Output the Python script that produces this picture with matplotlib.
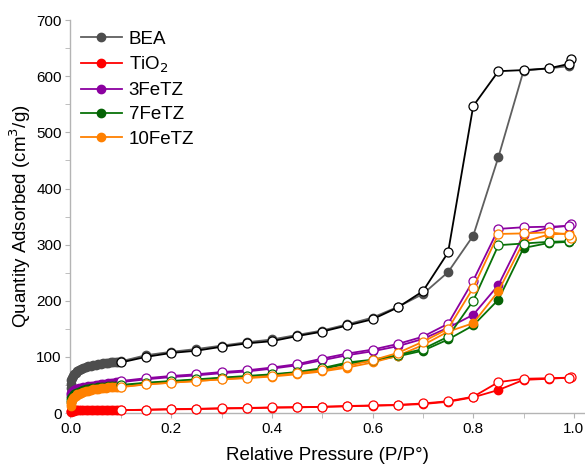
import matplotlib
matplotlib.use("Agg")
import matplotlib.pyplot as plt
from matplotlib.ticker import MultipleLocator

plt.rcParams['font.family'] = ['Liberation Sans', 'DejaVu Sans']

# relative pressure points
p_low = [0.0005, 0.001, 0.002, 0.003, 0.005, 0.007, 0.01, 0.013, 0.016, 0.02,
         0.025, 0.03, 0.035, 0.04, 0.045, 0.05, 0.055, 0.06, 0.065, 0.07,
         0.075, 0.08, 0.085, 0.09, 0.095]
p_mid = [0.1, 0.15, 0.2, 0.25, 0.3, 0.35, 0.4, 0.45, 0.5, 0.55, 0.6, 0.65,
         0.7, 0.75, 0.8, 0.85, 0.9, 0.95, 0.99]
p_ads = p_low + p_mid
p_des = [0.995, 0.99, 0.95, 0.9, 0.85, 0.8, 0.75, 0.7, 0.65, 0.6, 0.55, 0.5,
         0.45, 0.4, 0.35, 0.3, 0.25, 0.2, 0.15, 0.1]

# BEA
bea_ads = [45, 52, 58, 62, 66, 69, 72, 74, 76, 78, 80, 81.5, 83, 84, 85, 86, 87,
           88, 88.5, 89, 89.5, 90, 90.5, 91, 91.5,
           92, 103, 109, 114, 120, 126, 131, 139, 147, 158, 170, 189, 212, 251,
           316, 456, 610, 614, 618]
bea_des = [631, 622, 614, 611, 609, 547, 286, 217, 188, 167, 156, 145, 137,
           128, 124, 118, 111, 107, 100, 90]

# TiO2
tio2_ads = [2, 3, 3.5, 4, 4, 4, 4.5, 4.5, 4.5, 4.5, 4.5, 4.5, 5, 5, 5, 5, 5,
            5, 5, 5, 5, 5, 5, 5, 5,
            5, 5.5, 6.5, 7, 8, 8.5, 9.5, 10, 11, 12, 13, 14, 16, 20, 28, 41,
            59, 61, 63]
tio2_des = [65, 63, 62, 61, 55, 29, 21, 17, 14.5, 13.5, 12.5, 11, 10.5, 10, 9,
            8.5, 7.5, 7, 6, 5]

# 3FeTZ
fe3_ads = [30, 33, 35, 37, 39, 41, 42, 43, 44, 45, 46, 47, 48, 48.5, 49, 50,
           50.5, 51, 52, 52.5, 53, 53.5, 54, 54.5, 55,
           55, 60, 64, 67, 71, 74, 79, 85, 94, 103, 110, 119, 132, 152, 175,
           228, 318, 330, 334]
fe3_des = [336, 333, 332, 331, 328, 236, 159, 136, 123, 113, 106, 97, 87, 81,
           76, 73, 69, 66, 62, 57]

# 7FeTZ
fe7_ads = [20, 23, 26, 28, 31, 33, 35, 36.5, 38, 39, 40.5, 42, 43, 44, 44.5,
           45, 45.5, 46, 46.5, 47, 47.5, 48, 48.5, 49, 49.5,
           49, 53, 56, 59, 62, 65, 68, 72, 78, 88, 93, 101, 111, 131, 156,
           202, 294, 303, 305]
fe7_des = [310, 306, 305, 302, 299, 200, 136, 114, 103, 95, 90, 80, 73, 69,
           66, 63, 60, 57, 54, 50]

# 10FeTZ
fe10_ads = [12, 16, 20, 23, 27, 29, 31, 33, 34.5, 36, 37.5, 39, 40, 41, 42,
            42.5, 43, 44, 44.5, 45, 45.5, 46, 46.5, 47, 47,
            47, 51, 54, 57, 60, 62, 65, 69, 74, 81, 90, 102, 121, 145, 160,
            217, 305, 318, 320]
fe10_des = [312, 318, 322, 320, 319, 223, 150, 127, 107, 94, 84, 76, 71, 66,
            63, 60, 57, 54, 51, 46]

labels = ["BEA", "TiO$_2$", "3FeTZ", "7FeTZ", "10FeTZ"]
ads_sets = [bea_ads, tio2_ads, fe3_ads, fe7_ads, fe10_ads]
des_sets = [bea_des, tio2_des, fe3_des, fe7_des, fe10_des]
ads_line = ["#5f5f5f", "#ff0000", "#8b00a0", "#087208", "#ff8000"]
ads_face = ["#4d4d4d", "#ff0000", "#8b00a0", "#056205", "#ff8000"]
des_line = ["#000000", "#ff0000", "#8b00a0", "#087208", "#ff8000"]

fig, ax = plt.subplots(figsize=(5.85, 4.68), dpi=100)
fig.subplots_adjust(left=0.1205, right=1.0, bottom=0.1175, top=0.957)

for lab, ya, yd, cl, cf, cd in zip(labels, ads_sets, des_sets, ads_line, ads_face, des_line):
    ax.plot(p_ads, ya, color=cl, lw=1.3, marker='o', ms=6,
            mfc=cf, mec=cf, label=lab, clip_on=False, zorder=3)
    ax.plot(p_des, yd, color=cd, lw=1.3, marker='o', ms=6.5,
            mfc='white', mec=cd, mew=0.9, clip_on=False, zorder=4)

ax.set_xlim(0, 1.022)
ax.set_ylim(0, 700)
ax.xaxis.set_minor_locator(MultipleLocator(0.1))
ax.yaxis.set_major_locator(MultipleLocator(100))
ax.yaxis.set_minor_locator(MultipleLocator(50))
ax.set_xticks([0, 0.2, 0.4, 0.6, 0.8, 1.0])
ax.set_xticklabels(["0.0", "0.2", "0.4", "0.6", "0.8", "1.0"])

for side in ["top", "right"]:
    ax.spines[side].set_visible(False)
for side in ["left", "bottom"]:
    ax.spines[side].set_color("#b4b4b4")
    ax.spines[side].set_linewidth(1.0)
ax.tick_params(which='both', direction='out', color="#b4b4b4", labelsize=11,
               labelcolor='black', length=3.8, pad=2.5)

ax.set_xlabel("Relative Pressure (P/P°)", fontsize=13.5, labelpad=8)
ax.set_ylabel("Quantity Adsorbed (cm$^3$/g)", fontsize=13.5, labelpad=2.5)

ax.legend(loc='upper left', bbox_to_anchor=(0.0, 1.0), frameon=False,
          fontsize=13.5, handlelength=2.2, labelspacing=0.38,
          handletextpad=0.35, borderaxespad=0.15)

plt.savefig("out.png", dpi=100)
